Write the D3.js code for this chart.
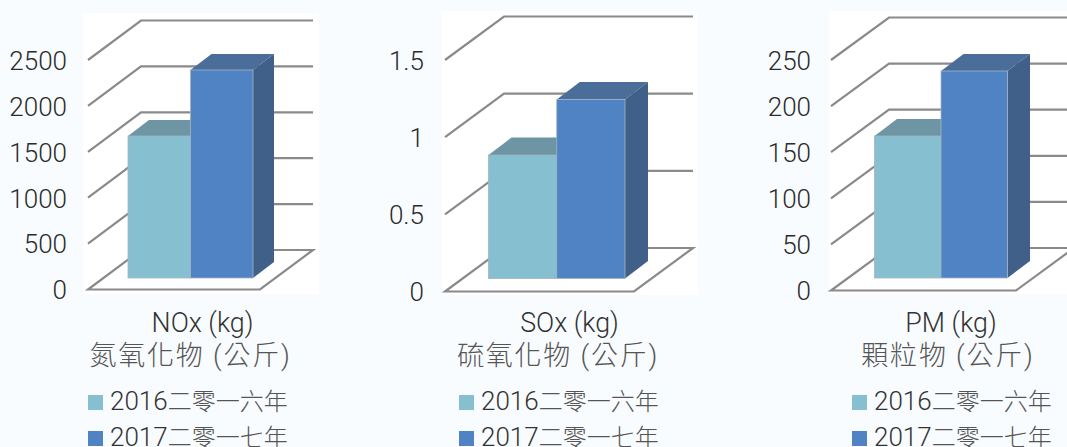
<!DOCTYPE html>
<html>
<head>
<meta charset="utf-8">
<script src="https://cdn.jsdelivr.net/npm/d3@7/dist/d3.min.js"></script>
<style>
  html, body { margin: 0; padding: 0; background: #f9fcfe; overflow: hidden; }
  text { fill: #333; font-family: Roboto, "Noto Sans CJK TC", sans-serif; font-weight: 300; }
</style>
</head>
<body>
<svg id="chart" width="1067" height="447"></svg>
<script>
// data
const years = ["2016", "2017"];
const legendYears = ["2016", "2017"];
const legendWords = ["二零一六年", "二零一七年"];
const noxValues = [1547, 2266];
const soxValues = [0.8, 1.16];
const pmValues = [154, 224.5];
const noxTicks = [0, 500, 1000, 1500, 2000, 2500];
const soxTicks = [0, 0.5, 1, 1.5];
const pmTicks = [0, 50, 100, 150, 200, 250];

const frontColors = ["#86c0d0", "#5083c4"];
const topColors = ["#6d95a3", "#4a6d9a"];
const sideColors = ["#5c8593", "#406089"];

// layout of each panel, values stay in the arrays above
const panels = [
    {
        values: noxValues, ticks: noxTicks, max: 2500,
        title: "NOx (kg)", subtitle: "氮氧化物 (公斤)",
        bg: [83, 13, 236, 281],
        floorX: [88, 260], floorY: 289.5, topY: 60, wallDx: 53, wallDy: 39.5,
        barX: [128, 253], barBase: 278, barDx: 21, barDy: 16,
        labelRight: 67, titleX: 202.5, subX: 190.5, legendX: 88
    },
    {
        values: soxValues, ticks: soxTicks, max: 1.5,
        title: "SOx (kg)", subtitle: "硫氧化物 (公斤)",
        bg: [442, 11, 256, 284],
        floorX: [445, 634], floorY: 291.5, topY: 60, wallDx: 59, wallDy: 43.5,
        barX: [488.5, 625], barBase: 278.5, barDx: 23, barDy: 17.5,
        labelRight: 424, titleX: 569.5, subX: 558, legendX: 459
    },
    {
        values: pmValues, ticks: pmTicks, max: 250,
        title: "PM (kg)", subtitle: "顆粒物 (公斤)",
        bg: [829, 11, 238, 283],
        floorX: [831, 1016], floorY: 290.5, topY: 60, wallDx: 58, wallDy: 42.5,
        barX: [874.5, 1007.5], barBase: 278, barDx: 22.5, barDy: 17,
        labelRight: 811, titleX: 951, subX: 948, legendX: 852
    }
];

const svg = d3.select("#chart");

function drawPanel(p) {
    const g = svg.append("g");
    const y = d3.scaleLinear().domain([0, p.max]).range([p.floorY, p.topY]);
    const x = d3.scaleBand().domain(years).range(p.barX);

    g.append("rect")
        .attr("x", p.bg[0]).attr("y", p.bg[1])
        .attr("width", p.bg[2]).attr("height", p.bg[3])
        .attr("fill", "#fff");

    const gridColor = "#8a8a8a";

    // floor
    const floorPts = [
        [p.floorX[0], p.floorY],
        [p.floorX[1], p.floorY],
        [p.floorX[1] + p.wallDx, p.floorY - p.wallDy],
        [p.floorX[0] + p.wallDx, p.floorY - p.wallDy]
    ];
    g.append("polygon")
        .attr("points", floorPts.join(" "))
        .attr("fill", "#fff")
        .attr("stroke", gridColor)
        .attr("stroke-width", 2.2);

    // walls: gridlines go along the side and then along the back
    g.append("g").selectAll("polyline")
        .data(p.ticks.slice(1))
        .join("polyline")
        .attr("fill", "none")
        .attr("stroke", gridColor)
        .attr("stroke-width", 2.2)
        .attr("points", d => [
            [p.floorX[0], y(d)],
            [p.floorX[0] + p.wallDx, y(d) - p.wallDy],
            [p.floorX[1] + p.wallDx, y(d) - p.wallDy]
        ].join(" "));

    // bars, one at a time so the later one sits over the earlier top
    years.forEach((yr, i) => {
        const bar = g.append("g");
        const x0 = x(yr), x1 = x0 + x.bandwidth();
        const barH = p.floorY - y(p.values[i]);
        const top = p.barBase - barH;

        bar.append("polygon")
            .attr("points", [[x0, top], [x1, top], [x1 + p.barDx, top - p.barDy], [x0 + p.barDx, top - p.barDy]].join(" "))
            .attr("fill", topColors[i]);
        bar.append("polygon")
            .attr("points", [[x1, top], [x1 + p.barDx, top - p.barDy], [x1 + p.barDx, p.barBase - p.barDy], [x1, p.barBase]].join(" "))
            .attr("fill", sideColors[i]);
        bar.append("rect")
            .attr("x", x0).attr("y", top)
            .attr("width", x.bandwidth()).attr("height", barH)
            .attr("fill", frontColors[i])
            .attr("stroke", "#a3b3c0")
            .attr("stroke-width", 0.8);
    });

    // value axis
    const axis = d3.axisLeft(y).tickValues(p.ticks).tickFormat(d3.format("~g")).tickSize(0).tickPadding(0);
    const axisG = g.append("g").attr("transform", `translate(${p.labelRight},1)`).call(axis);
    axisG.select(".domain").remove();
    axisG.selectAll("text")
        .attr("font-size", 26)
        .attr("font-family", "Roboto")
        .attr("font-weight", 300)
        .style("fill", "#2b2b2b");

    // titles
    g.append("text").attr("x", p.titleX).attr("y", 332)
        .attr("text-anchor", "middle").attr("font-size", 26.8).text(p.title);
    g.append("text").attr("x", p.subX).attr("y", 365)
        .attr("text-anchor", "middle").attr("font-size", 27).attr("letter-spacing", 1.8)
        .style("fill", "#555").text(p.subtitle);

    // legend
    const legend = g.append("g").selectAll("g").data(legendYears).join("g")
        .attr("transform", (d, i) => `translate(${p.legendX},${395 + i * 36})`);
    legend.append("rect").attr("width", 15).attr("height", 15).attr("fill", (d, i) => frontColors[i]);
    const label = legend.append("text").attr("x", 22).attr("y", 15).attr("font-size", 26);
    label.append("tspan").text(d => d);
    label.append("tspan").attr("font-size", 24).style("fill", "#555").text((d, i) => legendWords[i]);
}

panels.forEach(drawPanel);
</script>
</body>
</html>
